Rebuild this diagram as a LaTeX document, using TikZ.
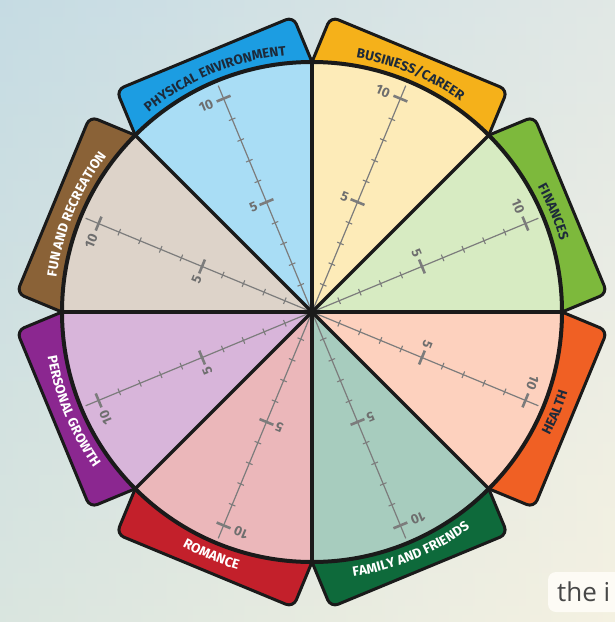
\documentclass[tikz,border=0pt]{standalone}
\usepackage{fontspec}
\setmainfont{Fira Sans}
\newfontfamily\uifont{Open Sans}
\usetikzlibrary{decorations.text}
\definecolor{bgT}{HTML}{D0E0E8}
\definecolor{bgB}{HTML}{F8F3DF}
\definecolor{bgL}{HTML}{BCD8E0}
\definecolor{bgR}{HTML}{F2F0E4}
\definecolor{outl}{HTML}{1A1A1A}
\definecolor{finT}{HTML}{7DB93C}\definecolor{finS}{HTML}{D7EBC2}
\definecolor{busT}{HTML}{F5B11A}\definecolor{busS}{HTML}{FDEBB8}
\definecolor{phyT}{HTML}{1C9DE2}\definecolor{phyS}{HTML}{A9DDF5}
\definecolor{funT}{HTML}{8A6237}\definecolor{funS}{HTML}{DDD3C9}
\definecolor{perT}{HTML}{8B2790}\definecolor{perS}{HTML}{D8B5DA}
\definecolor{romT}{HTML}{C3202B}\definecolor{romS}{HTML}{EBB7BA}
\definecolor{famT}{HTML}{0E6A3B}\definecolor{famS}{HTML}{A7CCBE}
\definecolor{heaT}{HTML}{F06024}\definecolor{heaS}{HTML}{FDD1BE}
\definecolor{darkT}{HTML}{1D2A3A}
\definecolor{axisG}{HTML}{7C7C7C}
\definecolor{numG}{HTML}{6E6E6E}
\newcommand\tabfont{\fontsize{13.5}{13.5}\selectfont\bfseries}
\newcommand\toplab[3]{%
  \path[shift={(C)}, decorate, decoration={text along path, text color=#2, text align=center, text={|\tabfont|#3}}]
    (#1+22.5:258) arc[start angle=#1+22.5, end angle=#1-22.5, radius=258];}
\newcommand\botlab[3]{%
  \path[shift={(C)}, decorate, decoration={text along path, text color=#2, text align=center, text={|\tabfont|#3}}]
    (#1-22.5:268) arc[start angle=#1-22.5, end angle=#1+22.5, radius=268];}
\tikzset{
  tabbox/.style={draw=outl, line width=3pt, rounded corners=8pt},
  divline/.style={draw=outl, line width=3.5pt},
  axisline/.style={draw=axisG, line width=1.2pt},
  smalltick/.style={draw=axisG, line width=1.1pt},
  bigtick/.style={draw=axisG, line width=2.6pt},
  numlab/.style={text=numG, font=\fontsize{13.5}{13.5}\selectfont\bfseries, inner sep=0pt},
}
\begin{document}
\begin{tikzpicture}[x=1pt,y=1pt]
\useasboundingbox (0,0) rectangle (615,-622);
\clip (0,0) rectangle (615,-622);
\shade[top color=bgT, bottom color=bgB] (0,0) rectangle (615,-622);
\shade[left color=bgL, right color=bgR, fill opacity=0.5] (0,0) rectangle (615,-622);
\coordinate (C) at (312,-312);
% tabs
\foreach \i/\m/\tc in {0/22.5/finT,1/67.5/busT,2/112.5/phyT,3/157.5/funT,4/202.5/perT,5/247.5/romT,6/292.5/famT,7/337.5/heaT}{
  \begin{scope}[shift={(C)}, rotate=\m-90]
    \path[tabbox, fill=\tc] (-95.67,200) rectangle (95.67,280);
  \end{scope}
}
% segments
\foreach \i/\m/\sc in {0/22.5/finS,1/67.5/busS,2/112.5/phyS,3/157.5/funS,4/202.5/perS,5/247.5/romS,6/292.5/famS,7/337.5/heaS}{
  \fill[\sc, shift={(C)}] (0,0) -- (\m-22.5:250) arc[start angle=\m-22.5, end angle=\m+22.5, radius=250] -- cycle;
}
% scales
\foreach \i/\m in {0/22.5,1/67.5,2/112.5,3/157.5,4/202.5,5/247.5,6/292.5,7/337.5}{
  \begin{scope}[shift={(C)}, rotate=\m]
    \path[axisline] (0,0) -- (245,0);
    \foreach \k in {1,2,3,4,6,7,8,9}{
      \path[smalltick] ({7+22.4*\k},-3.5) -- ({7+22.4*\k},3.5);
    }
    \path[bigtick] (119,-7.5) -- (119,7.5);
    \path[bigtick] (231,-7.5) -- (231,7.5);
    \node[numlab, rotate=\m-90] (five\i) at (119,14) {5};
    \node[numlab, rotate=\m-90] (ten\i) at (231,19) {10};
  \end{scope}
}
% division lines and rim
\foreach \a in {0,45,...,315}{
  \path[divline] (C) -- ++(\a:250);
}
\draw[outl, line width=4pt] (C) circle[radius=250];
% tab labels
\toplab{22.5}{darkT}{FINANCES}
\toplab{67.5}{darkT}{BUSINESS/CAREER}
\toplab{112.5}{darkT}{PHYSICAL ENVIRONMENT}
\toplab{157.5}{white}{FUN AND RECREATION}
\botlab{202.5}{white}{PERSONAL GROWTH}
\botlab{247.5}{white}{ROMANCE}
\botlab{292.5}{white}{FAMILY AND FRIENDS}
\botlab{337.5}{darkT}{HEALTH}
% overlay caption box
\path[fill=white!70!bgB, rounded corners=8pt] (548,-572) rectangle (640,-612);
\node[anchor=base west, inner sep=0pt, text=black!72, font=\uifont\fontsize{26}{26}\selectfont] (cap) at (557,-601) {the i};
\end{tikzpicture}
\end{document}
